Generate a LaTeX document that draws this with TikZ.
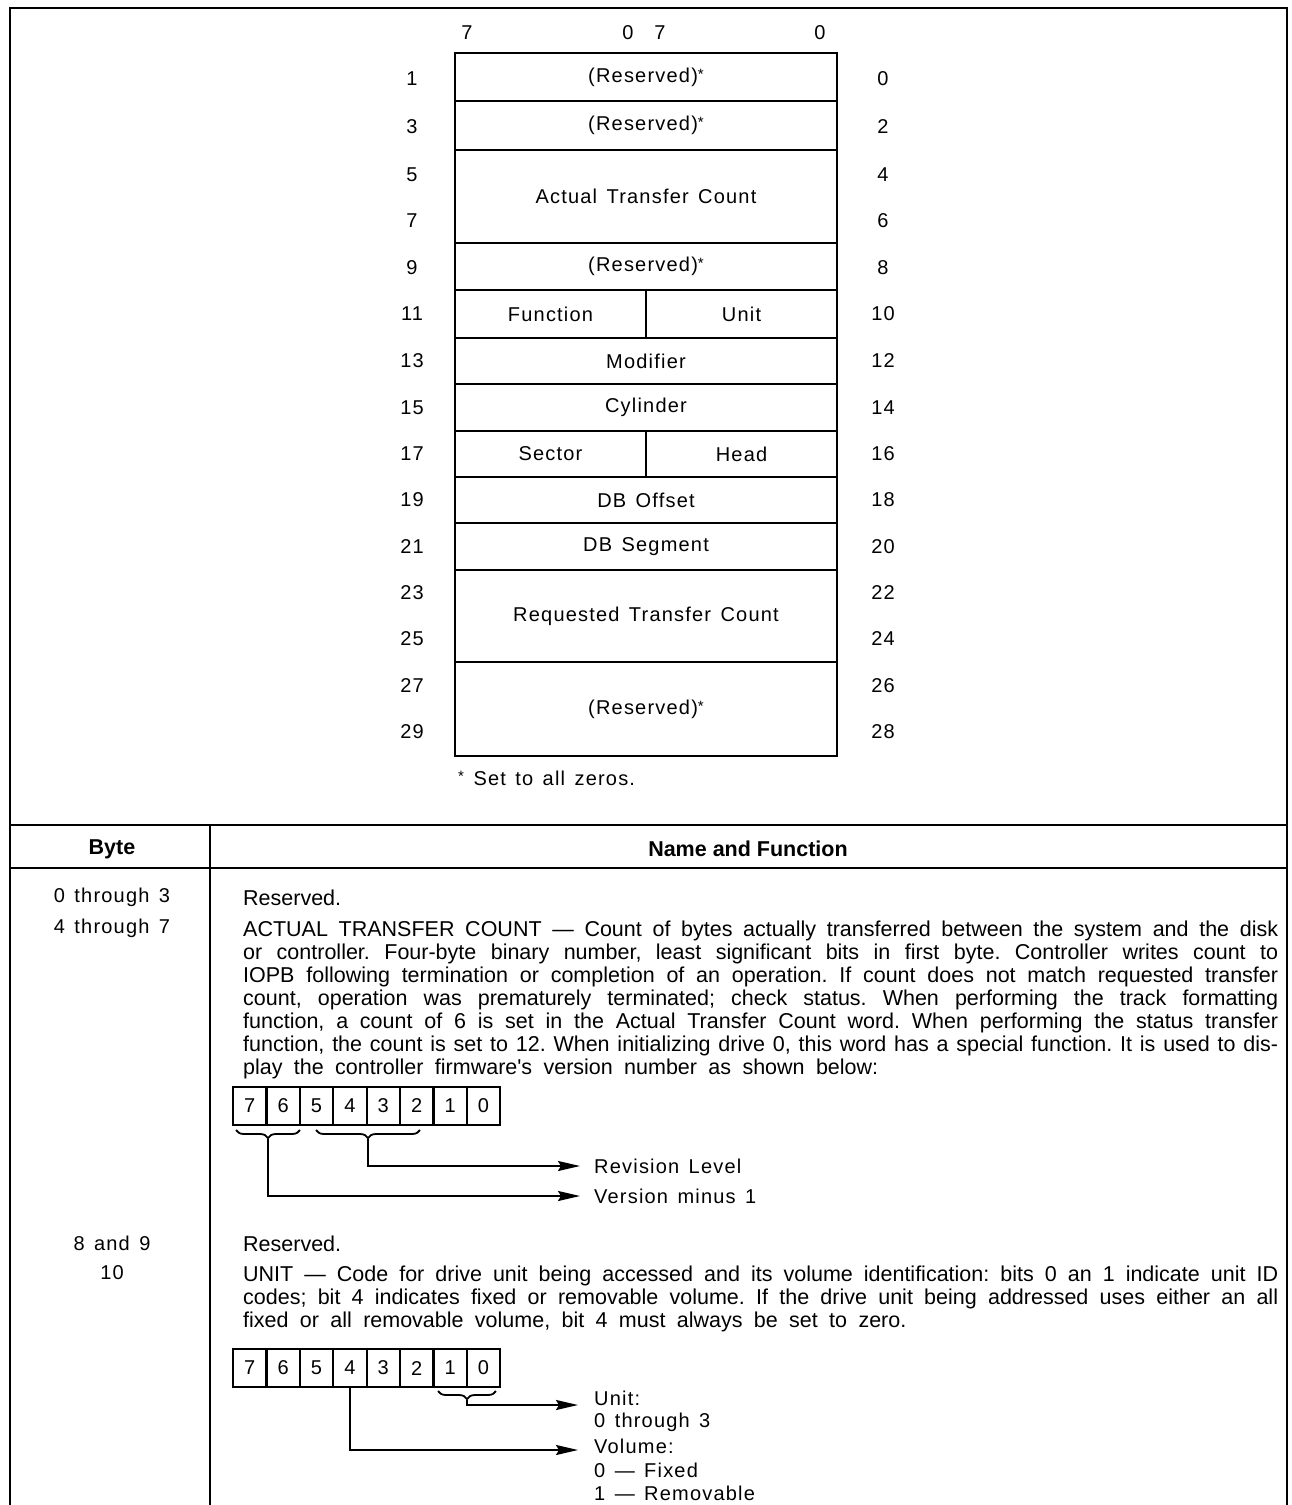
\documentclass[tikz,border=0pt]{standalone}
\usepackage{fontspec}
\usepackage{graphicx}
\setmainfont{Liberation Sans}
\newfontfamily\spacedfont[LetterSpace=6,WordSpace=1.4]{Liberation Sans}
\newfontfamily\bodyfont[WordSpace={1.9,1,1.4}]{Liberation Sans}
\usetikzlibrary{arrows.meta,decorations.pathreplacing}

\tikzset{
  lbl/.style={inner sep=0pt, font=\spacedfont\fontsize{20}{24}\selectfont},
  field/.style={draw, line width=2.6pt, inner sep=0pt,
    font=\spacedfont\fontsize{20}{24}\selectfont},
  wide/.style={field, minimum width=382pt},
  half/.style={field, minimum width=191pt},
  bitcell/.style={draw, line width=2.2pt, inner sep=0pt, minimum width=33.4pt,
    minimum height=38pt, font=\spacedfont\fontsize{20}{24}\selectfont},
  body/.style={anchor=base west, inner sep=0pt,
    font=\bodyfont\frenchspacing\fontsize{21.5}{23}\selectfont},
  colhead/.style={inner sep=0pt, font=\bfseries\fontsize{21.5}{24}\selectfont},
  frame/.style={line width=2.8pt},
  ptr/.style={line width=2pt, -{Stealth[length=22pt,width=10pt,inset=3pt]}},
  bitbrace/.style={line width=1.8pt, decorate,
    decoration={brace, mirror, amplitude=8pt}},
}
\newcommand{\zstar}{\raisebox{0.3ex}{\fontsize{15}{15}\selectfont *}}
% one justified text line: spaces stretch to the full measure, and get
% tighter (or the line is squeezed) when the words do not fit
\newsavebox{\linebox}
\newcommand{\jl}[1]{\sbox{\linebox}{#1}%
  \ifdim\wd\linebox>1035pt
    \sbox{\linebox}{\spaceskip=0.2em\relax #1}%
    \ifdim\wd\linebox>1035pt
      \resizebox{1035pt}{\height}{\usebox{\linebox}}%
    \else
      \makebox[1035pt][s]{\spaceskip=0.2em plus 1em\relax #1}%
    \fi
  \else\makebox[1035pt][s]{#1}\fi}

\begin{document}
\begin{tikzpicture}[x=1pt, y=-1pt]
\useasboundingbox (0,0) rectangle (1292,1505);

% outer frame and table rules
\draw[frame] (10,1505) -- (10,8) -- (1287,8) -- (1287,1505);
\draw[frame] (10,825) -- (1287,825);
\draw[frame] (10,868) -- (1287,868);
\draw[frame] (210,825) -- (210,1505);

% bit numbering over the word layout
\node[lbl] (hi7) at (467,33) {7};
\node[lbl] (hi0) at (628,33) {0};
\node[lbl] (lo7) at (660,33) {7};
\node[lbl] (lo0) at (820,33) {0};

% parameter block fields (row rules at 53,101,150,243,290,338,384,431,477,523,570,662,756)
\node[wide, minimum height=48pt] (f0)  at (646,77)    {(Reserved)\zstar};
\node[wide, minimum height=49pt] (f2)  at (646,125.5) {(Reserved)\zstar};
\node[wide, minimum height=93pt] (f4)  at (646,196.5) {Actual Transfer Count};
\node[wide, minimum height=47pt] (f8)  at (646,266.5) {(Reserved)\zstar};
\node[half, minimum height=48pt] (f11) at (550.5,314) {Function};
\node[half, minimum height=48pt] (f10) at (741.5,314) {Unit};
\node[wide, minimum height=46pt] (f12) at (646,361)   {Modifier};
\node[wide, minimum height=47pt] (f14) at (646,407.5) {Cylinder};
\node[half, minimum height=46pt] (f17) at (550.5,454) {Sector};
\node[half, minimum height=46pt] (f16) at (741.5,454) {Head};
\node[wide, minimum height=46pt] (f18) at (646,500)   {DB Offset};
\node[wide, minimum height=47pt] (f20) at (646,546.5) {DB Segment};
\node[wide, minimum height=92pt] (f22) at (646,616)   {Requested Transfer Count};
\node[wide, minimum height=94pt] (f26) at (646,709)   {(Reserved)\zstar};

% byte offsets on both sides
\foreach \y [count=\k from 1] in {79,127,175,221,267.5,314,361,407.5,454,500,546.5,593,639,685.5,732}{
  \pgfmathtruncatemacro{\odd}{2*\k-1}
  \pgfmathtruncatemacro{\even}{2*\k-2}
  \node[lbl] (odd\k)  at (412,\y) {\odd};
  \node[lbl] (even\k) at (883,\y) {\even};
}

\node[lbl, anchor=west] (note) at (458,778) {\zstar\ Set to all zeros.};

% table heading
\node[colhead] (hbyte) at (112,849) {Byte};
\node[colhead] (hname) at (748,849) {Name and Function};

% byte column
\node[lbl] (b03) at (112,897)  {0 through 3};
\node[lbl] (b47) at (112,928)  {4 through 7};
\node[lbl] (b89) at (112,1243) {8 and 9};
\node[lbl] (b10) at (112,1273) {10};

% descriptions
\node[body] (d03) at (243,905) {Reserved.};
\node[body] (a1) at (243,936)  {\jl{ACTUAL TRANSFER COUNT — Count of bytes actually transferred between the system and the disk}};
\node[body] (a2) at (243,959)  {\jl{or controller. Four-byte binary number, least significant bits in first byte. Controller writes count to}};
\node[body] (a3) at (243,982)  {\jl{IOPB following termination or completion of an operation. If count does not match requested transfer}};
\node[body] (a4) at (243,1005) {\jl{count, operation was prematurely terminated; check status. When performing the track formatting}};
\node[body] (a5) at (243,1028) {\jl{function, a count of 6 is set in the Actual Transfer Count word. When performing the status transfer}};
\node[body] (a6) at (243,1051) {\jl{function, the count is set to 12. When initializing drive 0, this word has a special function. It is used to dis-}};
\node[body] (a7) at (243,1074) {play the controller firmware's version number as shown below:};

% version byte
\foreach \b [count=\i from 0] in {7,6,5,4,3,2,1,0}{
  \node[bitcell] (v\b) at (249.7+33.4*\i,1106) {\b};
}
\draw[bitbrace] (236,1130) -- (300,1130) coordinate[midway, yshift=-9pt] (vtipA);
\draw[bitbrace] (316,1130) -- (420,1130) coordinate[midway, yshift=-9pt] (vtipB);
\coordinate (revend) at (580,1166);
\coordinate (verend) at (580,1196);
\draw[ptr] (vtipB) |- (revend);
\draw[ptr] (vtipA) |- (verend);
\node[lbl, anchor=west] (rev) at (594,1166) {Revision Level};
\node[lbl, anchor=west] (ver) at (594,1196) {Version minus 1};

\node[body] (d89) at (243,1251) {Reserved.};
\node[body] (u1) at (243,1281) {\jl{UNIT — Code for drive unit being accessed and its volume identification: bits 0 an 1 indicate unit ID}};
\node[body] (u2) at (243,1304) {\jl{codes; bit 4 indicates fixed or removable volume. If the drive unit being addressed uses either an all}};
\node[body] (u3) at (243,1327) {fixed or all removable volume, bit 4 must always be set to zero.};

% unit byte
\foreach \b [count=\i from 0] in {7,6,5,4,3,2,1,0}{
  \node[bitcell] (w\b) at (249.7+33.4*\i,1368) {\b};
}
\draw[bitbrace] (438,1391) -- (496,1391) coordinate[midway, yshift=-9pt] (wtip);
\coordinate (unitend) at (578,1405);
\coordinate (volend) at (578,1450);
\draw[ptr] (wtip) |- (unitend);
\draw[ptr] (w4.south) |- (volend);
\node[lbl, anchor=west] (ul1) at (594,1398) {Unit:};
\node[lbl, anchor=west] (ul2) at (594,1422) {0 through 3};
\node[lbl, anchor=west] (vl1) at (594,1446) {Volume:};
\node[lbl, anchor=west] (vl2) at (594,1470) {0 — Fixed};
\node[lbl, anchor=west] (vl3) at (594,1493) {1 — Removable};
\end{tikzpicture}
\end{document}
